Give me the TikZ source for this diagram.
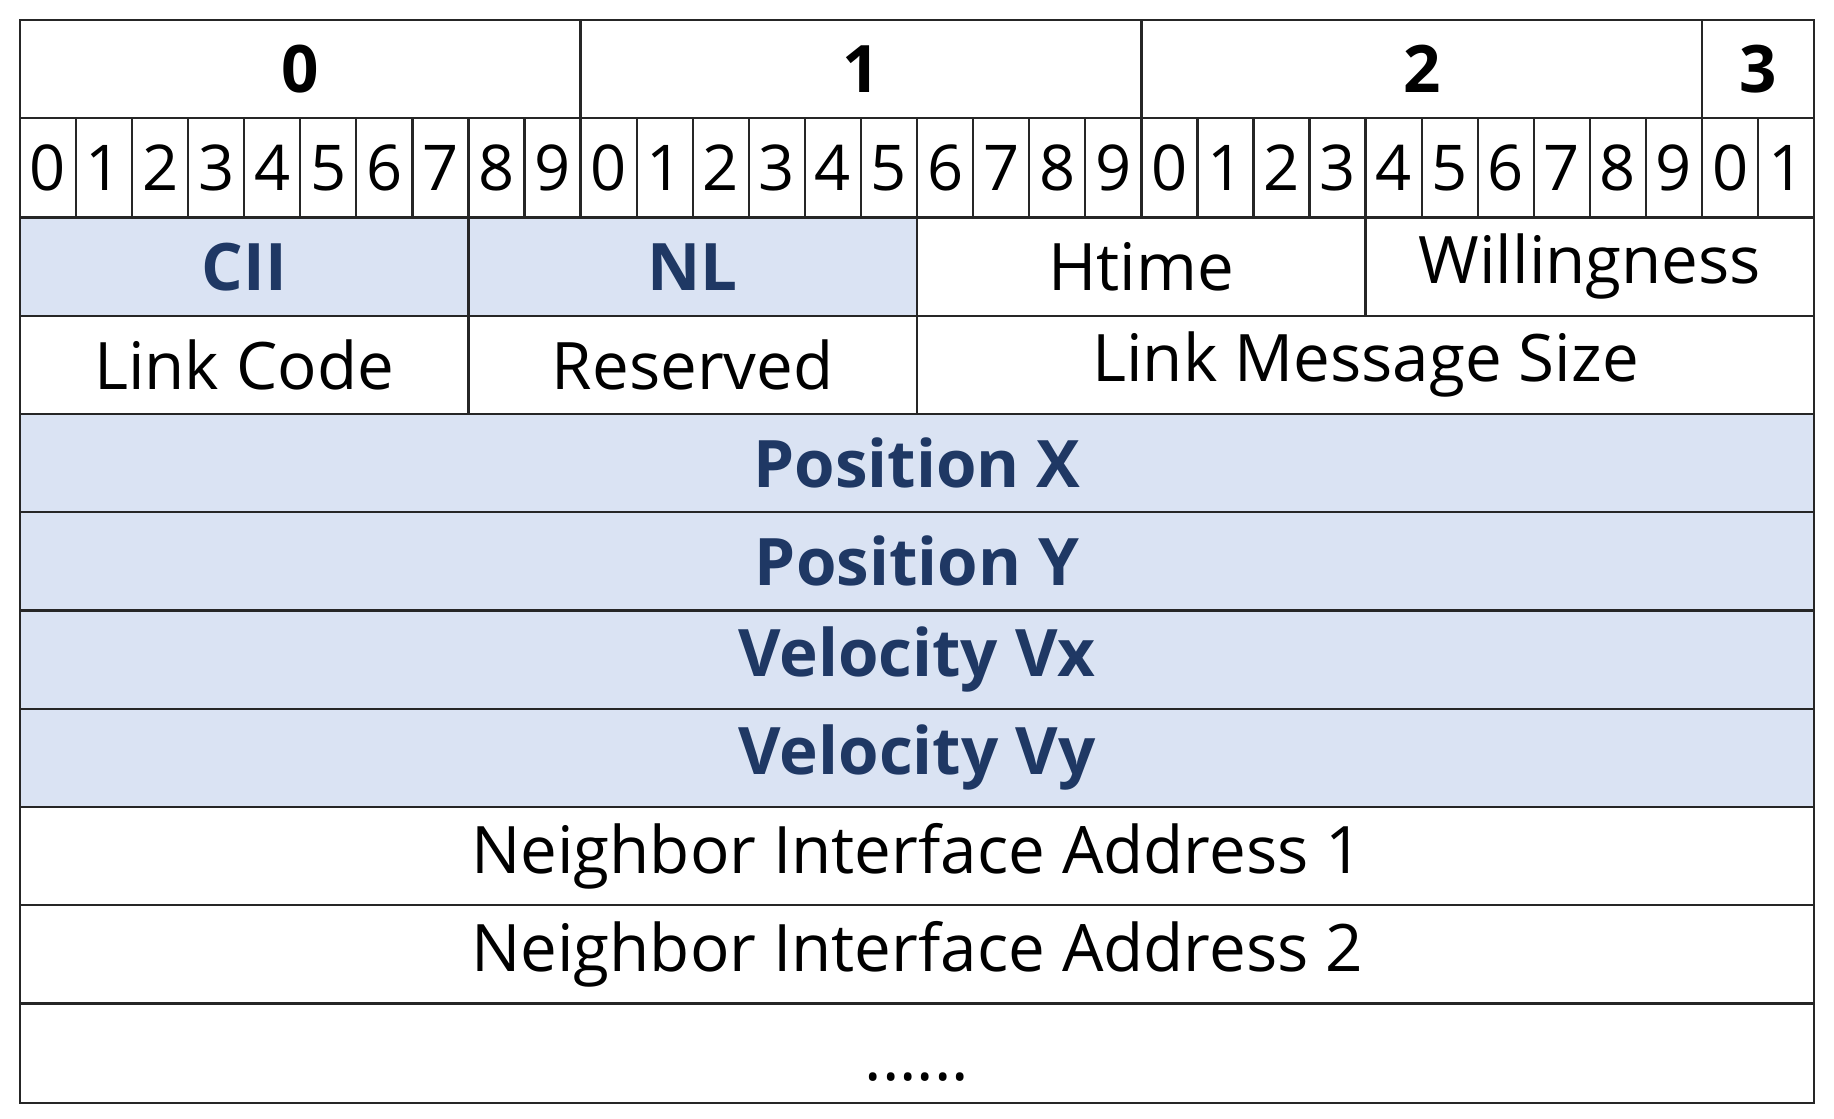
\documentclass[tikz,border=0pt]{standalone}
\usepackage{fontspec}
\setmainfont{Open Sans}
\definecolor{fillb}{HTML}{DAE3F3}
\definecolor{txtb}{HTML}{1F3864}
\begin{document}
\begin{tikzpicture}[x=0.5pt,y=-0.5pt,
  cell/.style={draw=black!85,line width=1pt},
  hl/.style={cell,fill=fillb},
  bt/.style={font=\fontsize{27}{30}\selectfont},
  lb/.style={font=\fontsize{28}{32}\selectfont},
  hb/.style={font=\fontsize{28}{32}\selectfont\bfseries,text=txtb}]
\useasboundingbox (0,0) rectangle (1568,956);
\def\bw{47.94}
% header bytes
\draw[cell] (17,17) rectangle (496.4,101) node[midway,font=\fontsize{28}{32}\selectfont\bfseries] (b0) {0};
\draw[cell] (496.4,17) rectangle (975.8,101) node[midway,font=\fontsize{28}{32}\selectfont\bfseries] (b1) {1};
\draw[cell] (975.8,17) rectangle (1455.2,101) node[midway,font=\fontsize{28}{32}\selectfont\bfseries] (b2) {2};
\draw[cell] (1455.2,17) rectangle (1551,101) node[midway,font=\fontsize{28}{32}\selectfont\bfseries] (b3) {3};
% bits
\foreach \i in {0,...,31}{
  \pgfmathtruncatemacro{\d}{mod(\i,10)}
  \draw[cell] ({17+\i*\bw},101) rectangle ({17+(\i+1)*\bw},186) node[midway,bt] (bit\i) {\d};
}
% row 3
\draw[hl] (17,186) rectangle (400.5,270) node[midway,hb] (cii) {CII};
\draw[hl] (400.5,186) rectangle (784,270) node[midway,hb] (nl) {NL};
\draw[cell] (784,186) rectangle (1167.5,270) node[midway,lb] (ht) {Htime};
\draw[cell] (1167.5,186) rectangle (1551,270) node[midway,lb] (wi) {Willingness};
% row 4
\draw[cell] (17,270) rectangle (400.5,354) node[midway,lb] (lc) {Link Code};
\draw[cell] (400.5,270) rectangle (784,354) node[midway,lb] (rs) {Reserved};
\draw[cell] (784,270) rectangle (1551,354) node[midway,lb] (lms) {Link Message Size};
% full rows
\draw[hl] (17,354) rectangle (1551,438) node[midway,hb] (px) {Position X};
\draw[hl] (17,438) rectangle (1551,522) node[midway,hb] (py) {Position Y};
\draw[hl] (17,522) rectangle (1551,606) node[midway,hb] (vx) {Velocity Vx};
\draw[hl] (17,606) rectangle (1551,690) node[midway,hb] (vy) {Velocity Vy};
\draw[cell] (17,690) rectangle (1551,774) node[midway,lb] (n1) {Neighbor Interface Address 1};
\draw[cell] (17,774) rectangle (1551,858) node[midway,lb] (n2) {Neighbor Interface Address 2};
\draw[cell] (17,858) rectangle (1551,943);
\node[lb,anchor=south] (dots) at (784,932) {......};
\end{tikzpicture}
\end{document}
